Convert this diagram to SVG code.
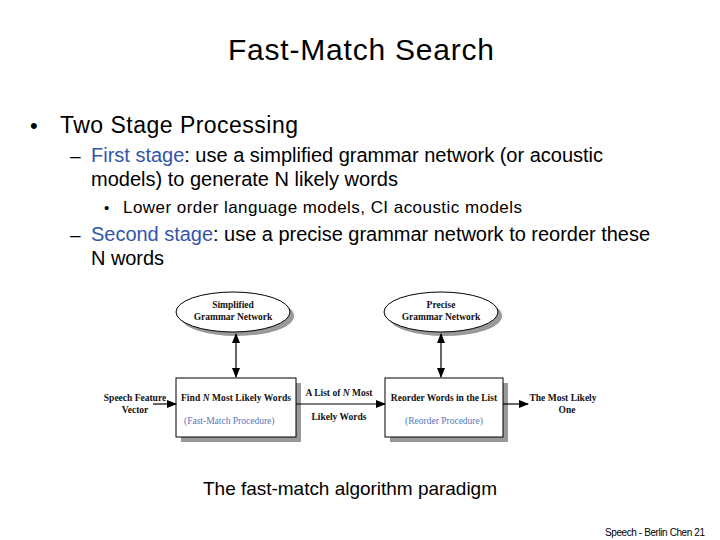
<svg xmlns="http://www.w3.org/2000/svg" width="720" height="540" viewBox="0 0 720 540">
<style>
.s{font-family:"Liberation Sans",Arial,sans-serif;fill:#000}
.b{fill:#3355aa}
.d{font-family:"Liberation Serif","Times New Roman",serif;font-weight:bold;font-size:9.5px;fill:#111}
.dp{font-family:"Liberation Serif","Times New Roman",serif;font-size:9.5px;fill:#5577bb}
.sh{fill:#999}
.box{fill:#fff;stroke:#000;stroke-width:1}
.ln{stroke:#000;stroke-width:1.2;fill:none}
</style>
<defs>
<marker id="ah" markerWidth="10" markerHeight="8" refX="9" refY="4" orient="auto-start-reverse" markerUnits="userSpaceOnUse">
<path d="M0,0 L10,4 L0,8 Z" fill="#000"/>
</marker>
</defs>
<rect width="720" height="540" fill="#fff"/>
<text class="s" x="228" y="60" font-size="30" textLength="266">Fast-Match Search</text>
<text class="s" x="30" y="133" font-size="22">•</text>
<text class="s" x="60" y="133" font-size="23" textLength="238">Two Stage Processing</text>
<text class="s" x="70" y="162" font-size="19">–</text>
<text class="s" x="91" y="162" font-size="20" textLength="512"><tspan class="b">First stage</tspan>: use a simplified grammar network (or acoustic</text>
<text class="s" x="91" y="186" font-size="20" textLength="307">models) to generate N likely words</text>
<text class="s" x="104" y="213" font-size="15">•</text>
<text class="s" x="123" y="213" font-size="17" textLength="399">Lower order language models, CI acoustic models</text>
<text class="s" x="70" y="241" font-size="19">–</text>
<text class="s" x="91" y="241" font-size="20" textLength="559"><tspan class="b">Second stage</tspan>: use a precise grammar network to reorder these</text>
<text class="s" x="91" y="265" font-size="20" textLength="73">N words</text>

<g id="simplified">
<ellipse class="sh" cx="237" cy="316" rx="57" ry="20"/>
<ellipse class="box" cx="233" cy="312" rx="57" ry="20"/>
<text class="d" x="233" y="308" text-anchor="middle">Simplified</text>
<text class="d" x="233" y="320" text-anchor="middle">Grammar Network</text>
</g>
<g id="precise">
<ellipse class="sh" cx="445" cy="316" rx="57" ry="20"/>
<ellipse class="box" cx="441" cy="312" rx="57" ry="20"/>
<text class="d" x="441" y="308" text-anchor="middle">Precise</text>
<text class="d" x="441" y="320" text-anchor="middle">Grammar Network</text>
</g>
<g id="find">
<rect class="sh" x="181" y="383" width="120" height="59"/>
<rect class="box" x="176" y="378" width="120" height="59"/>
<text class="d" x="181" y="401" textLength="110">Find  <tspan font-style="italic">N</tspan>  Most Likely Words</text>
<text class="dp" x="184" y="424">(Fast-Match  Procedure)</text>
</g>
<g id="reorder">
<rect class="sh" x="390" y="383" width="118" height="59"/>
<rect class="box" x="385" y="378" width="118" height="59"/>
<text class="d" x="444" y="401" text-anchor="middle">Reorder Words in the List</text>
<text class="dp" x="444" y="424" text-anchor="middle">(Reorder Procedure)</text>
</g>
<g id="labels">
<text class="d" x="135" y="401" text-anchor="middle">Speech Feature</text>
<text class="d" x="135" y="413" text-anchor="middle">Vector</text>
<text class="d" x="339" y="396" text-anchor="middle">A List of  <tspan font-style="italic">N</tspan> Most</text>
<text class="d" x="339" y="420" text-anchor="middle">Likely Words</text>
<text class="d" x="563" y="401" text-anchor="middle">The Most Likely</text>
<text class="d" x="567" y="413" text-anchor="middle">One</text>
</g>
<g id="connectors">
<line class="ln" x1="236" y1="334" x2="236" y2="377" marker-start="url(#ah)" marker-end="url(#ah)"/>
<line class="ln" x1="441" y1="334" x2="441" y2="377" marker-start="url(#ah)" marker-end="url(#ah)"/>
<line class="ln" x1="153" y1="404" x2="176" y2="404" marker-end="url(#ah)"/>
<line class="ln" x1="296" y1="404" x2="385" y2="404" marker-end="url(#ah)"/>
<line class="ln" x1="503" y1="404" x2="528" y2="404" marker-end="url(#ah)"/>
</g>
<text class="s" x="203" y="495" font-size="19" textLength="294">The fast-match algorithm paradigm</text>
<text class="s" x="605" y="536" font-size="10" textLength="100">Speech - Berlin Chen   21</text>
</svg>
